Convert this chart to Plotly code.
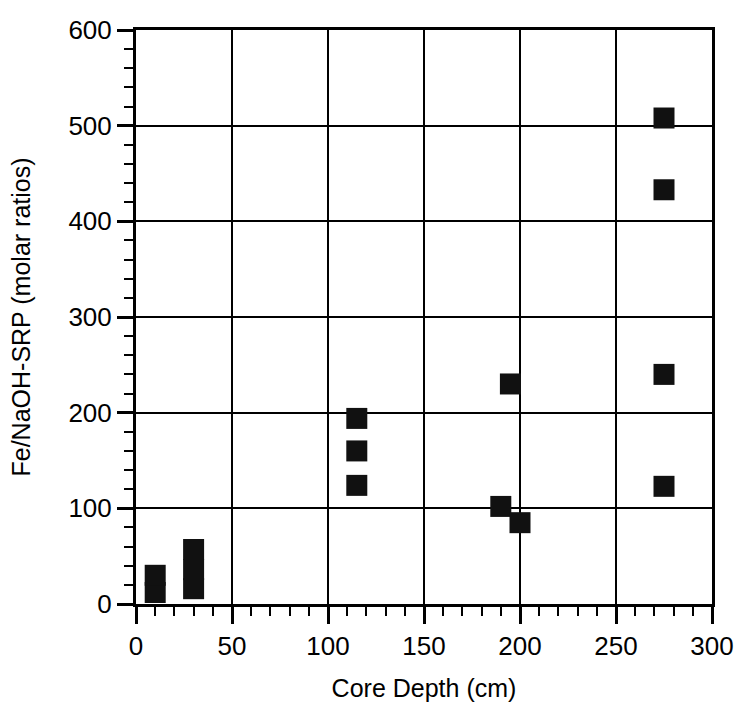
import plotly.graph_objects as go

# Fe / NaOH-SRP molar ratios against sediment core depth
depth_cm = [10, 10, 30, 30, 30, 115, 115, 115, 195, 190, 200, 275, 275, 275, 275]
fe_srp_ratio = [12, 30, 16, 36, 57, 194, 160, 124, 230, 102, 85, 508, 433, 240, 123]

x_ticks = [0, 50, 100, 150, 200, 250, 300]
y_ticks = [0, 100, 200, 300, 400, 500, 600]

FONT = "Liberation Sans, Arial, sans-serif"

fig = go.Figure(
    go.Scatter(
        x=depth_cm,
        y=fe_srp_ratio,
        mode="markers",
        marker=dict(symbol="square", size=21, color="#111111", line=dict(width=0)),
        showlegend=False,
    )
)

axis_common = dict(
    automargin=False,
    showgrid=True,
    gridcolor="black",
    gridwidth=2,
    showline=True,
    linecolor="black",
    linewidth=3,
    mirror=True,
    ticks="outside",
    tickcolor="black",
    tickwidth=2.5,
    zeroline=False,
    tickfont=dict(family=FONT, size=26, color="black"),
)

fig.update_xaxes(
    **axis_common,
    range=[0, 300],
    tickvals=x_ticks,
    ticklen=17,
    minor=dict(dtick=10, ticklen=9, tickwidth=2, tickcolor="black", ticks="outside", showgrid=False),
    title=dict(text="Core Depth (cm)", font=dict(family=FONT, size=25, color="black"), standoff=20),
)
fig.update_yaxes(
    **axis_common,
    range=[0, 600],
    tickvals=y_ticks,
    ticklen=16,
    minor=dict(dtick=20, ticklen=9, tickwidth=2, tickcolor="black", ticks="outside", showgrid=False),
    title=dict(text="Fe/NaOH-SRP (molar ratios)", font=dict(family=FONT, size=25, color="black"), standoff=31),
)

fig.update_layout(
    width=743,
    height=709,
    margin=dict(l=136, r=31, t=30, b=105),
    plot_bgcolor="white",
    paper_bgcolor="white",
)

fig.write_html("out.html")
